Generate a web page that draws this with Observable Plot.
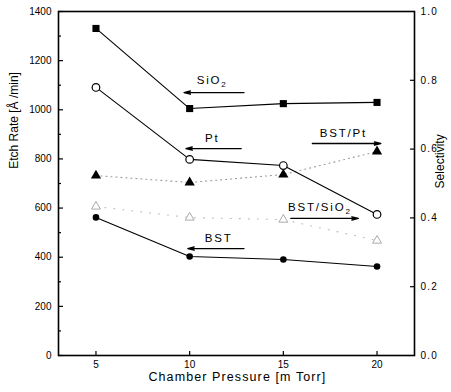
<!DOCTYPE html>
<html><head><meta charset="utf-8">
<script src="https://cdn.jsdelivr.net/npm/d3@7"></script>
<script src="https://cdn.jsdelivr.net/npm/@observablehq/plot@0.6"></script>
<style>
body{margin:0;background:#fff}
#chart svg{font-family:"Liberation Sans",Arial,sans-serif;background:#fff}
</style>
</head><body><div id="chart"></div>
<script>
// ---- data ----
const pressure = [5, 10, 15, 20];
const sio2 = [1331, 1005, 1025, 1030];      // etch rate, filled squares
const pt = [1091, 798, 773, 574];           // etch rate, open circles
const bst = [562, 403, 391, 362];           // etch rate, filled circles
const bstPt = [0.523, 0.503, 0.526, 0.593]; // selectivity, filled triangles
const bstSio2 = [0.433, 0.401, 0.395, 0.334]; // selectivity, open triangles

const leftTicks = [0, 200, 400, 600, 800, 1000, 1200, 1400];
const leftMinor = [100, 300, 500, 700, 900, 1100, 1300];
const selTicks = [0, 0.2, 0.4, 0.6, 0.8, 1.0];
const selInner = [0.2, 0.4, 0.6, 0.8];
const xTicks = [5, 10, 15, 20];

const arrowLabels = ["SiO2", "Pt", "BST/Pt", "BST/SiO2", "BST"];
const arrowFrom = [12.9, 12.75, 16.55, 15.4, 12.9];
const arrowTo = [9.7, 9.8, 20.2, 19.0, 9.9];
const arrowY = [1070, 842, 863, 558, 435];
const labelX = [11.2, 11.2, 18.2, 16.95, 11.55];
const labelY = [1120, 884, 904, 604, 478];

const xTitle = "Chamber Pressure [m Torr]";
const yTitle = "Etch Rate [Å /min]";
const y2Title = "Selectivity";

const SEL = 1400; // selectivity 1.0 sits at the top of the etch-rate axis

const rows = (vals, scale = 1) => pressure.map((p, i) => ({x: p, y: vals[i] * scale}));
const dSio2 = rows(sio2), dPt = rows(pt), dBst = rows(bst);
const dBstPt = rows(bstPt, SEL), dBstSio2 = rows(bstSio2, SEL);
const idx = arrowLabels.map((_, i) => i);

const chart = Plot.plot({
  width: 451, height: 392,
  marginLeft: 58, marginRight: 37, marginTop: 11, marginBottom: 37,
  style: {fontFamily: "Liberation Sans, Arial, sans-serif", color: "#000", background: "#fff"},
  x: {domain: [3, 22]},
  y: {domain: [0, 1400]},
  marks: [
    // axes: ticks pointing inward
    Plot.axisY(leftTicks, {anchor: "left", tickSize: -5, fill: "none", label: null, strokeWidth: 1.2}),
    Plot.axisY(leftMinor, {anchor: "left", tickSize: -3, fill: "none", label: null, strokeWidth: 1.2}),
    Plot.axisY(leftTicks, {anchor: "left", tickSize: 0, tickPadding: 7, label: null, fontSize: 10,
      tickFormat: d => String(d)}),
    Plot.axisY(selInner.map(d => d * SEL), {anchor: "right", tickSize: -5, fill: "none", label: null, strokeWidth: 1.2}),
    Plot.axisY(selTicks.map(d => d * SEL), {anchor: "right", tickSize: 0, tickPadding: 6, label: null, fontSize: 10,
      tickFormat: d => (d / SEL).toFixed(1)}),
    Plot.axisX(xTicks, {anchor: "bottom", tickSize: -4, fill: "none", label: null, strokeWidth: 1.2}),
    Plot.axisX(xTicks, {anchor: "bottom", tickSize: 0, tickPadding: 5, label: null, fontSize: 10}),
    Plot.frame({stroke: "#000", strokeWidth: 1.6}),

    // titles
    Plot.text([xTitle], {x: 12.55, frameAnchor: "bottom", dy: 25, fontSize: 12.5, text: d => d}),
    Plot.text([yTitle], {y: 760, frameAnchor: "left", dx: -44, rotate: -90, fontSize: 12, text: d => d}),
    Plot.text([y2Title], {y: 900, frameAnchor: "right", dx: 26, rotate: -90, fontSize: 12, text: d => d}),

    // selectivity (dotted)
    Plot.line(dBstPt, {x: "x", y: "y", stroke: "#999", strokeWidth: 1.1, strokeDasharray: "1,4"}),
    Plot.line(dBstSio2, {x: "x", y: "y", stroke: "#bbb", strokeWidth: 1.1, strokeDasharray: "1,8"}),
    Plot.dot(dBstPt, {x: "x", y: "y", symbol: "triangle", r: 3.8, fill: "#000"}),
    Plot.dot(dBstSio2, {x: "x", y: "y", symbol: "triangle", r: 3.3, fill: "#fff", stroke: "#aaa", strokeWidth: 1}),

    // etch rates (solid)
    Plot.line(dSio2, {x: "x", y: "y", stroke: "#000", strokeWidth: 1.1}),
    Plot.line(dPt, {x: "x", y: "y", stroke: "#000", strokeWidth: 1.1}),
    Plot.line(dBst, {x: "x", y: "y", stroke: "#000", strokeWidth: 1.1}),
    Plot.dot(dSio2, {x: "x", y: "y", symbol: "square", r: 4, fill: "#000"}),
    Plot.dot(dPt, {x: "x", y: "y", r: 3.8, fill: "#fff", stroke: "#000", strokeWidth: 1.2}),
    Plot.dot(dBst, {x: "x", y: "y", r: 3.3, fill: "#000"}),

    // annotation arrows + labels
    Plot.arrow(idx, {x1: i => arrowFrom[i], y1: i => arrowY[i], x2: i => arrowTo[i], y2: i => arrowY[i],
      stroke: "#000", strokeWidth: 1.4, headLength: 7, headAngle: 28}),
    Plot.text(idx, {x: i => labelX[i], y: i => labelY[i], text: i => arrowLabels[i], fontSize: 11.5})
  ]
});

document.getElementById("chart").appendChild(chart);

// letter spacing & subscripts
const svg = d3.select(chart);
svg.selectAll("text").each(function() {
  const t = d3.select(this);
  const s = this.textContent;
  if (arrowLabels.includes(s)) {
    t.attr("letter-spacing", 1.8);
    if (s.endsWith("SiO2")) {
      t.text(null);
      t.append("tspan").text(s.slice(0, -1));
      t.append("tspan").attr("dy", 3).attr("font-size", 8).text("2");
    }
  } else if (s === xTitle) {
    t.attr("letter-spacing", 1.1);
  } else if (/^\d\.\d$/.test(s)) {
    t.attr("letter-spacing", 1.2);
  }
});
</script>
</body></html>
